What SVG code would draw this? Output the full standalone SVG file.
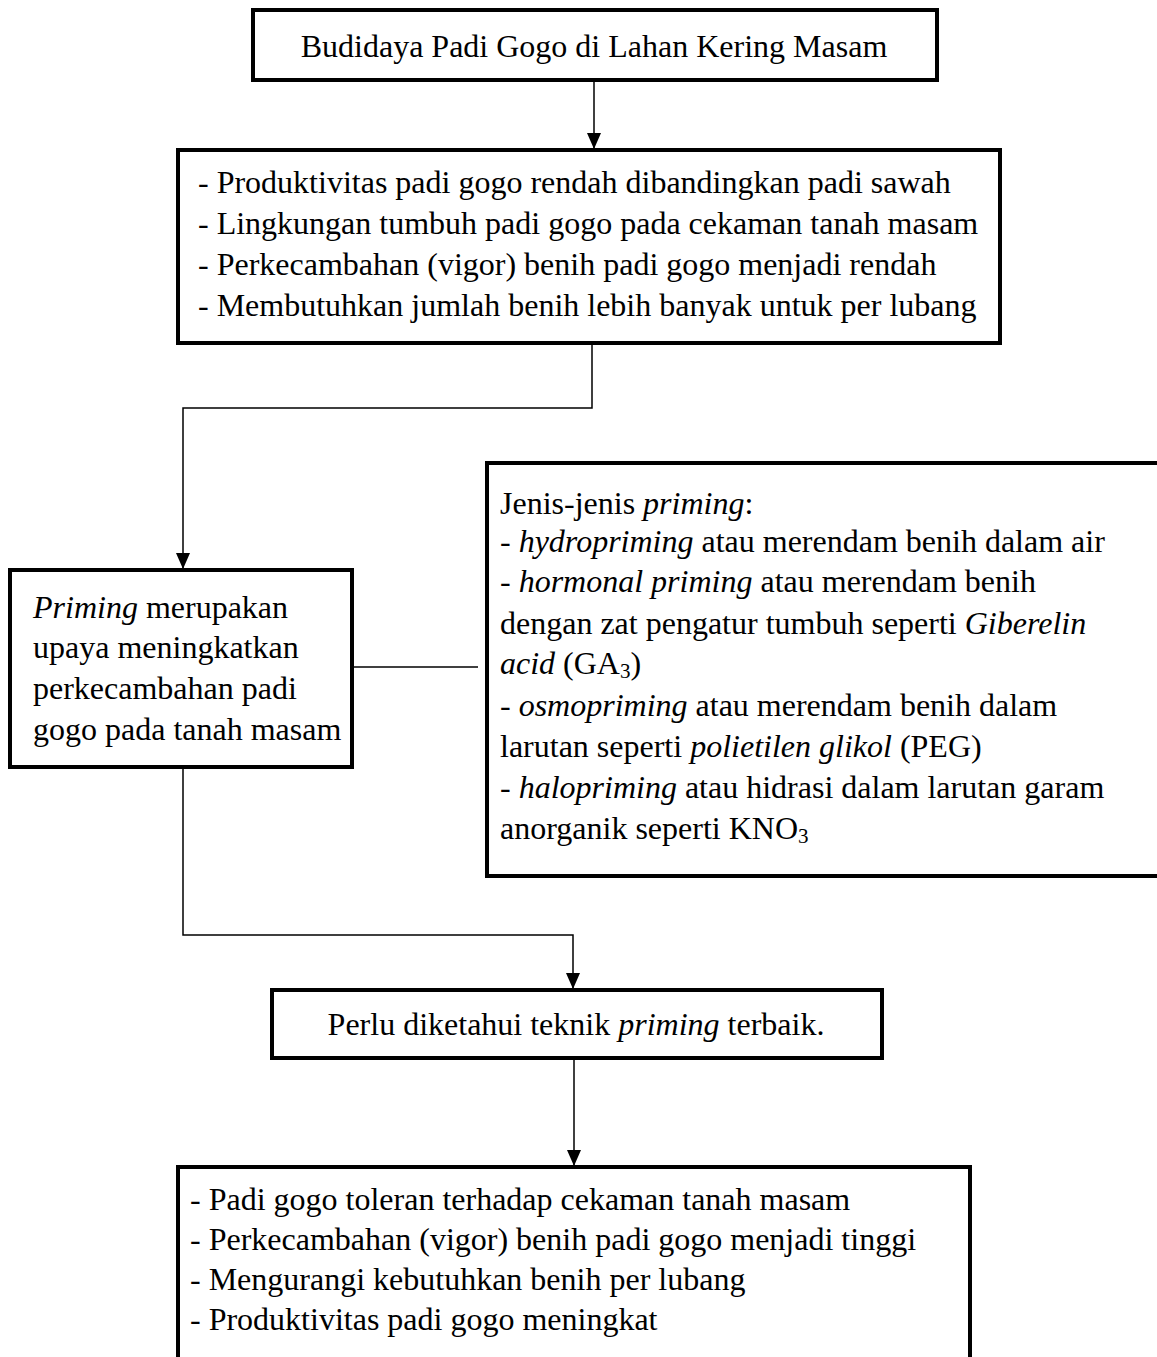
<svg xmlns="http://www.w3.org/2000/svg" width="1157" height="1357" viewBox="0 0 1157 1357">
<style>
.box{fill:#fff;stroke:#000;stroke-width:4}
.t{font-family:"Liberation Serif","Times New Roman",serif;font-size:32px;fill:#000}
.i{font-style:italic}
.sub{font-size:21px}
.c{fill:none;stroke:#000;stroke-width:1.5}
</style>
<defs>
<marker id="ah" markerWidth="16" markerHeight="14" refX="15" refY="7" orient="auto" markerUnits="userSpaceOnUse">
<path d="M0,0 L16,7 L0,14 Z" fill="#000"/>
</marker>
</defs>
<rect width="1157" height="1357" fill="#fff"/>
<g id="connectors">
<line class="c" x1="594" y1="80" x2="594" y2="148" marker-end="url(#ah)"/>
<polyline class="c" points="592,343 592,408 183,408 183,568" marker-end="url(#ah)"/>
<line class="c" x1="352" y1="667" x2="478" y2="667"/>
<polyline class="c" points="183,767 183,935 573,935 573,988" marker-end="url(#ah)"/>
<line class="c" x1="574" y1="1058" x2="574" y2="1165" marker-end="url(#ah)"/>
</g>
<g id="n1">
<rect class="box" x="253" y="10" width="684" height="70"/>
<text class="t" x="594" y="57" text-anchor="middle">Budidaya Padi Gogo di Lahan Kering Masam</text>
</g>
<g id="n2">
<rect class="box" x="178" y="150" width="822" height="193"/>
<text class="t" x="198" y="193">- Produktivitas padi gogo rendah dibandingkan padi sawah</text>
<text class="t" x="198" y="234">- Lingkungan tumbuh padi gogo pada cekaman tanah masam</text>
<text class="t" x="198" y="275">- Perkecambahan (vigor) benih padi gogo menjadi rendah</text>
<text class="t" x="198" y="316">- Membutuhkan jumlah benih lebih banyak untuk per lubang</text>
</g>
<g id="n3">
<rect class="box" x="10" y="570" width="342" height="197"/>
<text class="t" x="33" y="618"><tspan class="i">Priming</tspan> merupakan</text>
<text class="t" x="33" y="658">upaya meningkatkan</text>
<text class="t" x="33" y="699">perkecambahan padi</text>
<text class="t" x="33" y="740">gogo pada tanah masam</text>
</g>
<g id="n4">
<rect class="box" x="487" y="463" width="680" height="413"/>
<text class="t" x="500" y="514">Jenis-jenis <tspan class="i">priming</tspan>:</text>
<text class="t" x="500" y="552">- <tspan class="i">hydropriming</tspan> atau merendam benih dalam air</text>
<text class="t" x="500" y="592">- <tspan class="i">hormonal priming</tspan> atau merendam benih</text>
<text class="t" x="500" y="634">dengan zat pengatur tumbuh seperti <tspan class="i">Giberelin</tspan></text>
<text class="t" x="500" y="674"><tspan class="i">acid</tspan> (GA<tspan class="sub" dy="4">3</tspan><tspan dy="-4">)</tspan></text>
<text class="t" x="500" y="716">- <tspan class="i">osmopriming</tspan> atau merendam benih dalam</text>
<text class="t" x="500" y="757">larutan seperti <tspan class="i">polietilen glikol</tspan> (PEG)</text>
<text class="t" x="500" y="798">- <tspan class="i">halopriming</tspan> atau hidrasi dalam larutan garam</text>
<text class="t" x="500" y="839">anorganik seperti KNO<tspan class="sub" dy="4">3</tspan></text>
</g>
<g id="n5">
<rect class="box" x="272" y="990" width="610" height="68"/>
<text class="t" x="576" y="1035" text-anchor="middle">Perlu diketahui teknik <tspan class="i">priming</tspan> terbaik.</text>
</g>
<g id="n6">
<rect class="box" x="178" y="1167" width="792" height="200"/>
<text class="t" x="190" y="1210">- Padi gogo toleran terhadap cekaman tanah masam</text>
<text class="t" x="190" y="1250">- Perkecambahan (vigor) benih padi gogo menjadi tinggi</text>
<text class="t" x="190" y="1290">- Mengurangi kebutuhkan benih per lubang</text>
<text class="t" x="190" y="1330">- Produktivitas padi gogo meningkat</text>
</g>
</svg>
